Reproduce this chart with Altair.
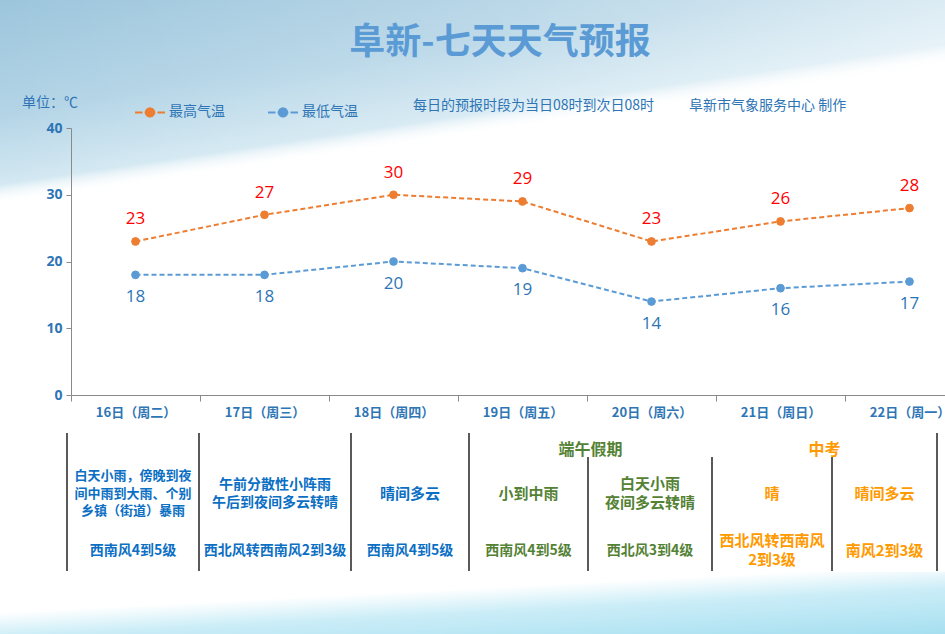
import altair as alt
import pandas as pd

# ---- forecast data -------------------------------------------------------
days = ["16日（周二）", "17日（周三）", "18日（周四）", "19日（周五）",
        "20日（周六）", "21日（周日）", "22日（周一）"]
high_temps = [23, 27, 30, 29, 23, 26, 28]
low_temps = [18, 18, 20, 19, 14, 16, 17]
series_names = ["最高气温", "最低气温"]

weather_text = [
    "白天小雨，傍晚到夜\n间中雨到大雨、个别\n乡镇（街道）暴雨",
    "午前分散性小阵雨\n午后到夜间多云转晴",
    "晴间多云",
    "小到中雨",
    "白天小雨\n夜间多云转晴",
    "晴",
    "晴间多云",
]
wind_text = [
    "西南风4到5级",
    "西北风转西南风2到3级",
    "西南风4到5级",
    "西南风4到5级",
    "西北风3到4级",
    "西北风转西南风\n2到3级",
    "南风2到3级",
]
holiday_labels = ["端午假期", "中考"]

title_text = "阜新-七天天气预报"
unit_text = "单位：℃"
note_text = "每日的预报时段为当日08时到次日08时"
maker_text = "阜新市气象服务中心 制作"

# ---- layout / style ------------------------------------------------------
W, H = 945, 634
LEFT, TOP = 71, 128            # plot origin inside the page
PLOT_W, PLOT_H = W - LEFT, 267
BAND_SPAN = 903                # 7 bands of 129 px, last one runs off the page

CJK = "Noto Sans CJK SC"
NUM_FONT = "Open Sans"
TEXT_BLUE = "#2e75b6"
AXIS_GREY = "#8a8a8a"
HIGH_COLOR = "#ed7d31"
LOW_COLOR = "#5b9bd5"
COL_BLUE = "#0b6fc4"
COL_GREEN = "#548235"
COL_ORANGE = "#ff9a00"
column_colors = [COL_BLUE, COL_BLUE, COL_BLUE, COL_GREEN, COL_GREEN, COL_ORANGE, COL_ORANGE]
weather_sizes = [13, 14, 15, 15, 15, 15, 15]
weather_line_h = [17.5, 18, 18.5, 18.5, 18.5, 18.5, 18.5]
wind_sizes = [14, 14, 14, 14, 14, 15, 15]
WIND_LINE_H = 19

# table column edges (page pixels)
table_edges = [67, 199, 351, 469, 588, 712, 832, 937]


def px(x):
    return x - LEFT


def py(y):
    return y - TOP


def single():
    return alt.Chart(alt.Data(values=[{}]))


def first_line_y(center, text, line_h):
    """Vertical position of the first line so a multi-line block is centred."""
    n = text.count("\n") + 1
    return center - (n - 1) * line_h / 2


# ---- background ----------------------------------------------------------
top_wash = single().mark_rect(
    color=alt.LinearGradient(
        gradient="linear", x1=0, y1=0, x2=0.371, y2=0.637,
        stops=[
            alt.GradientStop(color="#9cc5dc", offset=0),
            alt.GradientStop(color="#b3d4e6", offset=0.55),
            alt.GradientStop(color="#d3e8f2", offset=0.9),
            alt.GradientStop(color="rgba(255,255,255,0)", offset=1),
        ],
    )
).encode(x=alt.value(px(0)), x2=alt.value(px(W)), y=alt.value(py(0)), y2=alt.value(py(240)))

top_fade = single().mark_rect(
    color=alt.LinearGradient(
        gradient="linear", x1=0, y1=0, x2=1, y2=0,
        stops=[
            alt.GradientStop(color="rgba(255,255,255,0)", offset=0),
            alt.GradientStop(color="rgba(255,255,255,0.15)", offset=0.5),
            alt.GradientStop(color="rgba(255,255,255,0.45)", offset=1),
        ],
    )
).encode(x=alt.value(px(0)), x2=alt.value(px(W)), y=alt.value(py(0)), y2=alt.value(py(240)))

bottom_wave = single().mark_rect(
    color=alt.LinearGradient(
        gradient="linear", x1=0.45, y1=0.3, x2=1, y2=1,
        stops=[
            alt.GradientStop(color="rgba(168,225,242,0)", offset=0),
            alt.GradientStop(color="rgba(168,225,242,0.6)", offset=0.35),
            alt.GradientStop(color="#a6dff0", offset=1),
        ],
    )
).encode(x=alt.value(px(0)), x2=alt.value(px(W)), y=alt.value(py(572)), y2=alt.value(py(H)))

# ---- temperature chart ---------------------------------------------------
temps = pd.DataFrame({
    "day": days * 2,
    "series": [series_names[0]] * len(days) + [series_names[1]] * len(days),
    "temp": high_temps + low_temps,
})

legend_symbol = (
    "M-1,0L-0.5,0M-0.36,0L-0.24,0M0.24,0L0.36,0M0.5,0L1,0"
    "M-0.28,0A0.28,0.28,0,1,1,0.28,0A0.28,0.28,0,1,1,-0.28,0Z"
)
series_legend = alt.Legend(
    title=None, orient="none", legendX=px(134), legendY=py(96),
    direction="horizontal", symbolType=legend_symbol, symbolSize=900,
    symbolStrokeWidth=2, symbolOpacity=1, labelFont=CJK, labelFontSize=14,
    labelColor=TEXT_BLUE, labelOffset=3, columnPadding=39, padding=0,
)

x_enc = alt.X(
    "day:N", sort=days,
    scale=alt.Scale(type="band", domain=days, range=[0, BAND_SPAN],
                    paddingInner=0, paddingOuter=0),
    axis=alt.Axis(
        title=None, labelAngle=0, tickBand="extent", labelFont=CJK,
        labelFontSize=13, labelFontWeight="bold", labelColor=TEXT_BLUE,
        domainColor=AXIS_GREY, tickColor=AXIS_GREY, tickSize=6,
        labelPadding=5, labelOverlap=False, labelBound=False, labelFlush=False,
        grid=False, zindex=1,
    ),
)
y_enc = alt.Y(
    "temp:Q", scale=alt.Scale(domain=[0, 40]),
    axis=alt.Axis(
        title=None, values=[0, 10, 20, 30, 40], grid=False, labelFont=NUM_FONT,
        labelFontSize=14, labelFontWeight="bold", labelColor=TEXT_BLUE,
        domainColor=AXIS_GREY, tickColor=AXIS_GREY, tickSize=5, labelPadding=4,
        zindex=1,
    ),
)
stroke_enc = alt.Stroke("series:N", sort=series_names,
                        scale=alt.Scale(domain=series_names, range=[HIGH_COLOR, LOW_COLOR]),
                        legend=series_legend)
fill_enc = alt.Fill("series:N", sort=series_names,
                    scale=alt.Scale(domain=series_names, range=[HIGH_COLOR, LOW_COLOR]),
                    legend=series_legend)

base = alt.Chart(temps)
lines = base.mark_line(strokeDash=[5, 3], strokeWidth=2).encode(
    x=x_enc, y=y_enc, stroke=stroke_enc, detail="series:N")
points = base.mark_point(filled=True, size=60, opacity=1, strokeWidth=1).encode(
    x=x_enc, y=y_enc, fill=fill_enc, stroke=stroke_enc)
high_labels = base.transform_filter(alt.datum.series == series_names[0]).mark_text(
    dy=-22, fontSize=17, font=NUM_FONT, color="#ff0000").encode(
    x=x_enc, y=y_enc, text="temp:Q")
low_labels = base.transform_filter(alt.datum.series == series_names[1]).mark_text(
    dy=22, fontSize=17, font=NUM_FONT, color=TEXT_BLUE).encode(
    x=x_enc, y=y_enc, text="temp:Q")

# ---- header texts --------------------------------------------------------
title = single().mark_text(
    text=title_text, font=CJK, fontSize=36, fontWeight="bold", color="#5b9bd5",
    align="center", baseline="middle",
).encode(x=alt.value(px(500)), y=alt.value(py(43)))
unit = single().mark_text(
    text=unit_text, font=CJK, fontSize=14, color=TEXT_BLUE, align="left", baseline="middle",
).encode(x=alt.value(px(22)), y=alt.value(py(103)))
note = single().mark_text(
    text=note_text, font=CJK, fontSize=14, color=TEXT_BLUE, align="left", baseline="middle",
).encode(x=alt.value(px(413)), y=alt.value(py(106)))
maker = single().mark_text(
    text=maker_text, font=CJK, fontSize=14, color=TEXT_BLUE, align="left", baseline="middle",
).encode(x=alt.value(px(689)), y=alt.value(py(106)))

# ---- forecast table under the chart --------------------------------------
table_layers = []
for i, xe in enumerate(table_edges):
    top_y = 457 if i in (4, 5, 6) else 433
    table_layers.append(
        single().mark_rule(color="#000000", strokeWidth=1.3).encode(
            x=alt.value(px(xe)), y=alt.value(py(top_y)), y2=alt.value(py(571)))
    )

for i in range(len(days)):
    cx = (table_edges[i] + table_edges[i + 1]) / 2
    table_layers.append(
        single().mark_text(
            text=weather_text[i], lineBreak="\n", lineHeight=weather_line_h[i],
            font=CJK, fontSize=weather_sizes[i], fontWeight="bold",
            color=column_colors[i], align="center", baseline="middle",
        ).encode(x=alt.value(px(cx)),
                 y=alt.value(py(first_line_y(493.5, weather_text[i], weather_line_h[i]))))
    )
    table_layers.append(
        single().mark_text(
            text=wind_text[i], lineBreak="\n", lineHeight=WIND_LINE_H,
            font=CJK, fontSize=wind_sizes[i], fontWeight="bold",
            color=column_colors[i], align="center", baseline="middle",
        ).encode(x=alt.value(px(cx)),
                 y=alt.value(py(first_line_y(550.5, wind_text[i], WIND_LINE_H))))
    )

for label, (a, b), color in zip(holiday_labels, [(3, 5), (5, 7)], [COL_GREEN, COL_ORANGE]):
    cx = (table_edges[a] + table_edges[b]) / 2
    table_layers.append(
        single().mark_text(
            text=label, font=CJK, fontSize=16, fontWeight="bold", color=color,
            align="center", baseline="middle",
        ).encode(x=alt.value(px(cx)), y=alt.value(py(449.5)))
    )

chart = alt.layer(
    top_wash, top_fade, bottom_wave,
    lines, points, high_labels, low_labels,
    title, unit, note, maker,
    *table_layers,
).properties(
    width=PLOT_W, height=PLOT_H,
    autosize=alt.AutoSizeParams(type="none"),
    padding={"left": LEFT, "top": TOP, "right": 0, "bottom": H - TOP - PLOT_H},
    background="#ffffff",
).configure_view(stroke=None)

chart.save("out.html", embed_options={"renderer": "svg", "actions": False})
